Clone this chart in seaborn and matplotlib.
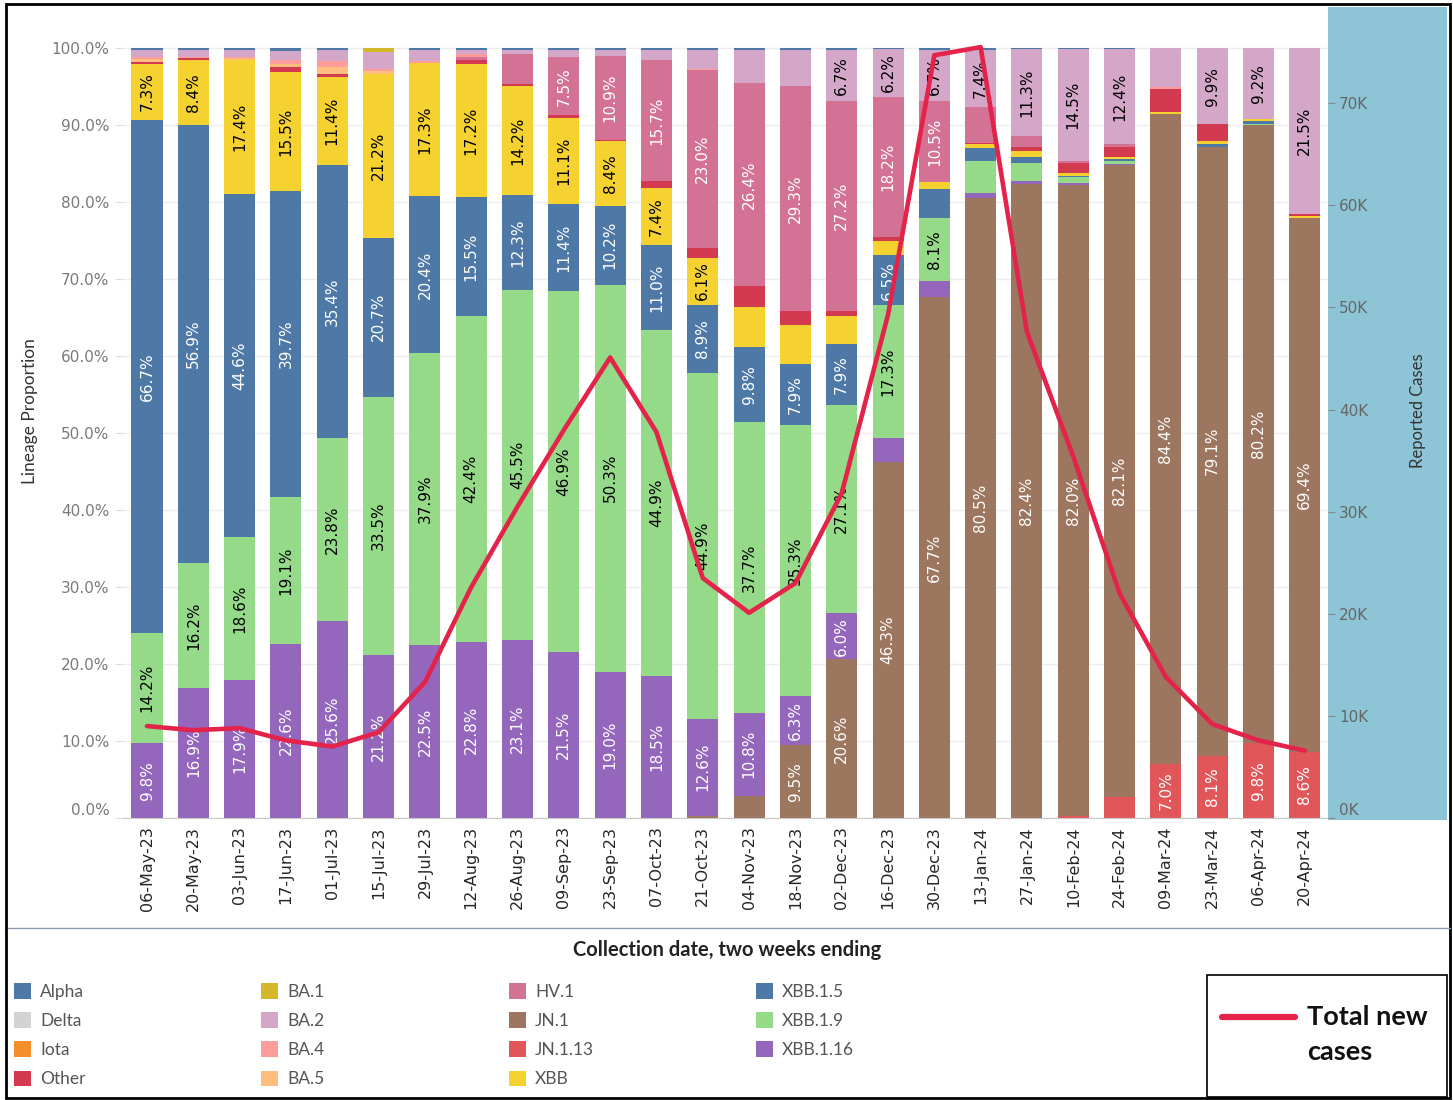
import numpy as np
import pandas as pd
import seaborn as sns
import matplotlib.pyplot as plt
from matplotlib.patches import Patch, Rectangle
from matplotlib.lines import Line2D

dates = ['06-May-23', '20-May-23', '03-Jun-23', '17-Jun-23', '01-Jul-23', '15-Jul-23',
         '29-Jul-23', '12-Aug-23', '26-Aug-23', '09-Sep-23', '23-Sep-23', '07-Oct-23',
         '21-Oct-23', '04-Nov-23', '18-Nov-23', '02-Dec-23', '16-Dec-23', '30-Dec-23',
         '13-Jan-24', '27-Jan-24', '10-Feb-24', '24-Feb-24', '09-Mar-24', '23-Mar-24',
         '06-Apr-24', '20-Apr-24']

# lineage proportions (%) per two-week period
jn1_13  = [0, 0, 0, 0, 0, 0, 0, 0, 0, 0, 0, 0, 0, 0, 0, 0, 0, 0, 0, 0, 0.2, 2.7, 7.0, 8.1, 9.8, 8.6]
jn1     = [0, 0, 0, 0, 0, 0, 0, 0, 0, 0, 0, 0, 0.3, 2.9, 9.5, 20.6, 46.3, 67.7, 80.5, 82.4, 82.0, 82.1, 84.4, 79.1, 80.2, 69.4]
xbb1_16 = [9.8, 16.9, 17.9, 22.6, 25.6, 21.2, 22.5, 22.8, 23.1, 21.5, 19.0, 18.5, 12.6, 10.8, 6.3, 6.0, 3.0, 2.1, 0.7, 0.4, 0.3, 0.2, 0, 0, 0, 0]
xbb1_9  = [14.2, 16.2, 18.6, 19.1, 23.8, 33.5, 37.9, 42.4, 45.5, 46.9, 50.3, 44.9, 44.9, 37.7, 35.3, 27.1, 17.3, 8.1, 4.1, 2.3, 0.7, 0.4, 0, 0, 0.2, 0]
xbb1_5  = [66.7, 56.9, 44.6, 39.7, 35.4, 20.7, 20.4, 15.5, 12.3, 11.4, 10.2, 11.0, 8.9, 9.8, 7.9, 7.9, 6.5, 3.8, 1.7, 0.7, 0.2, 0.2, 0, 0.3, 0.3, 0]
xbb     = [7.3, 8.4, 17.4, 15.5, 11.4, 21.2, 17.3, 17.2, 14.2, 11.1, 8.4, 7.4, 6.1, 5.2, 5.0, 3.6, 1.8, 0.9, 0.5, 0.9, 0.4, 0.3, 0.3, 0.4, 0.3, 0.2]
other   = [0.2, 0.3, 0, 0.6, 0.5, 0.1, 0, 0.6, 0.2, 0.4, 0.2, 0.9, 1.3, 2.7, 1.8, 0.7, 0.6, 0, 0.2, 0.4, 1.3, 1.3, 3.0, 2.2, 0, 0.3]
hv1     = [0, 0, 0, 0, 0, 0, 0, 0.4, 3.9, 7.5, 10.9, 15.7, 23.0, 26.4, 29.3, 27.2, 18.2, 10.5, 4.7, 1.5, 0.3, 0.3, 0, 0, 0, 0]
ba5     = [0.4, 0, 0.2, 0.5, 0.9, 0.3, 0, 0, 0, 0, 0, 0, 0, 0, 0, 0, 0, 0, 0, 0, 0, 0, 0, 0, 0, 0]
ba4     = [0.3, 0.2, 0.2, 0.4, 0.7, 0.3, 0.2, 0.3, 0, 0, 0, 0.1, 0.2, 0, 0, 0, 0, 0, 0, 0, 0, 0, 0.3, 0, 0, 0]
ba2     = [0.8, 0.8, 0.8, 1.2, 1.4, 2.2, 1.5, 0.6, 0.6, 1.0, 0.8, 1.3, 2.4, 4.2, 4.6, 6.7, 6.2, 6.7, 7.4, 11.3, 14.5, 12.4, 5.0, 9.9, 9.2, 21.5]
ba1     = [0, 0, 0, 0, 0, 0.5, 0, 0, 0, 0, 0, 0, 0, 0, 0, 0, 0, 0, 0, 0, 0, 0, 0, 0, 0, 0]
iota    = [0] * 26
delta   = [0] * 26
alpha   = [0.3, 0.3, 0.3, 0.4, 0.3, 0, 0.2, 0.2, 0.2, 0.2, 0.2, 0.2, 0.3, 0.3, 0.3, 0.2, 0.1, 0.2, 0.2, 0.1, 0.1, 0.1, 0, 0, 0, 0]

# total new cases (right axis)
cases = [9000, 8600, 8800, 7600, 7000, 8400, 13300, 22600, 30500, 38000, 45100, 37800, 23500,
         20100, 23000, 31800, 49300, 74700, 75500, 47600, 35400, 22000, 13800, 9200, 7600, 6600]

# bottom -> top stacking order
stack_order = ['JN.1.13', 'JN.1', 'XBB.1.16', 'XBB.1.9', 'XBB.1.5', 'XBB', 'Other', 'HV.1',
               'BA.5', 'BA.4', 'BA.2', 'BA.1', 'Iota', 'Delta', 'Alpha']
series = [jn1_13, jn1, xbb1_16, xbb1_9, xbb1_5, xbb, other, hv1, ba5, ba4, ba2, ba1, iota, delta, alpha]

colors = {'Alpha': '#4e79a7', 'Delta': '#d3d3d3', 'Iota': '#f28e2b', 'Other': '#d3394f',
          'BA.1': '#d4b829', 'BA.2': '#d4a6c8', 'BA.4': '#ff9d9a', 'BA.5': '#ffbe7d',
          'HV.1': '#d37295', 'JN.1': '#9d7660', 'JN.1.13': '#e15759', 'XBB': '#f6d230',
          'XBB.1.5': '#4e79a7', 'XBB.1.9': '#95da88', 'XBB.1.16': '#9467bd'}
dark_text = ['XBB.1.9', 'XBB', 'BA.2']
line_color = '#e4234b'

sns.set_style('white')
plt.rcParams['font.family'] = ['DejaVu Sans']

W, H = 1453, 1100
fig = plt.figure(figsize=(W / 100, H / 100), dpi=100)


def fx(px):
    return px / W


def fy(py):
    return 1 - py / H


# blue panel behind the right axis
fig.add_artist(Rectangle((fx(1328), fy(820)), fx(1447) - fx(1328), fy(7) - fy(820),
                         transform=fig.transFigure, facecolor='#8dc4d6', edgecolor='none', zorder=-1))

ax = fig.add_axes([fx(122), fy(818), fx(1328) - fx(122), fy(42) - fy(818)])

df = pd.DataFrame(dict(zip(stack_order, series)), index=dates)
cum = df.cumsum(axis=1)
cum['date'] = dates

# overlay cumulative bars from the top of the stack down
for name in reversed(stack_order):
    sns.barplot(data=cum, x='date', y=name, color=colors[name], width=0.67, saturation=1,
                errorbar=None, linewidth=0, ax=ax)

for i, d in enumerate(dates):
    for name in stack_order:
        v = df.loc[d, name]
        if v >= 6:
            yc = cum.loc[d, name] - v / 2
            ax.text(i, yc, f'{v:.1f}%', rotation=90, ha='center', va='center', fontsize=11,
                    color='black' if name in dark_text else 'white')

ax.set_xlim(-0.54, 25.5)
ax.set_ylim(0, 100.8)
yt = np.arange(0, 101, 10)
ax.set_yticks(yt)
ax.set_yticklabels([f'{v:.1f}%' for v in yt])
ax.set_xlabel('')
ax.set_ylabel('')
ax.yaxis.grid(True, color='#ededed', linewidth=1)
ax.set_axisbelow(True)
ax.tick_params(axis='y', length=5, color='#dddddd', labelcolor='#7a7a7a', labelsize=11, pad=4)
ax.tick_params(axis='x', length=0, labelsize=11.5, pad=6, labelrotation=90)
for s in ['top', 'right', 'left']:
    ax.spines[s].set_visible(False)
ax.spines['bottom'].set_color('#c8c8c8')
ax.yaxis.get_major_ticks()[0].label1.set_va('bottom')

ax2 = ax.twinx()
sns.lineplot(x=np.arange(len(dates)), y=cases, ax=ax2, color=line_color, linewidth=3.3)
ax2.set_ylim(0, 76000)
rt = np.arange(0, 70001, 10000)
ax2.set_yticks(rt)
ax2.set_yticklabels([f'{int(v / 1000)}K' for v in rt])
ax2.tick_params(axis='y', length=5, color='#888888', labelcolor='#666666', labelsize=11, pad=3)
for s in ax2.spines.values():
    s.set_visible(False)
ax2.yaxis.get_major_ticks()[0].label2.set_va('bottom')
ax2.set_ylabel('')

fig.text(fx(30), fy(411), 'Lineage Proportion', rotation=90, ha='center', va='center',
         fontsize=12.5, color='#333333', family='Lato')
fig.text(fx(1418), fy(411), 'Reported Cases', rotation=90, ha='center', va='center',
         fontsize=12, color='#333333', family='Lato')
fig.text(fx(727), fy(950), 'Collection date, two weeks ending', ha='center', va='center',
         fontsize=14.5, fontweight='bold', color='#222222', family='Lato')

# lineage legend, one column at a time
legend_cols = [['Alpha', 'Delta', 'Iota', 'Other'], ['BA.1', 'BA.2', 'BA.4', 'BA.5'],
               ['HV.1', 'JN.1', 'JN.1.13', 'XBB'], ['XBB.1.5', 'XBB.1.9', 'XBB.1.16']]
legend_x = [14, 261, 509, 756]
for names, x in zip(legend_cols, legend_x):
    handles = [Patch(facecolor=colors[n], edgecolor='none') for n in names]
    fig.legend(handles, names, loc='upper left', bbox_to_anchor=(fx(x), fy(983)),
               frameon=False, labelcolor='#555555', handlelength=1.0,
               handleheight=1.0, handletextpad=0.5, labelspacing=0.72, borderpad=0,
               borderaxespad=0, prop={'family': 'Lato', 'size': 12.5})

# total new cases key
fig.add_artist(Rectangle((fx(1207), fy(1097)), fx(1447) - fx(1207), fy(975) - fy(1097),
                         transform=fig.transFigure, facecolor='white', edgecolor='black', lw=1.2))
fig.add_artist(Line2D([fx(1222), fx(1295)], [fy(1017), fy(1017)], transform=fig.transFigure,
                      color=line_color, lw=4.5, solid_capstyle='round'))
fig.text(fx(1307), fy(1017), 'Total new', ha='left', va='center', fontsize=19.5,
         fontweight='bold', color='#111111', family='Lato')
fig.text(fx(1307), fy(1052), 'cases', ha='left', va='center', fontsize=19.5,
         fontweight='bold', color='#111111', family='Lato')

# separator and outer frame
fig.add_artist(Line2D([fx(8), fx(1450)], [fy(928), fy(928)], transform=fig.transFigure,
                      color='#8a9bb0', lw=1))
fig.add_artist(Rectangle((fx(6), fy(1098)), fx(1450) - fx(6), fy(4) - fy(1098),
                         transform=fig.transFigure, fill=False, edgecolor='black', lw=2))

fig.savefig('out.png', dpi=100)
